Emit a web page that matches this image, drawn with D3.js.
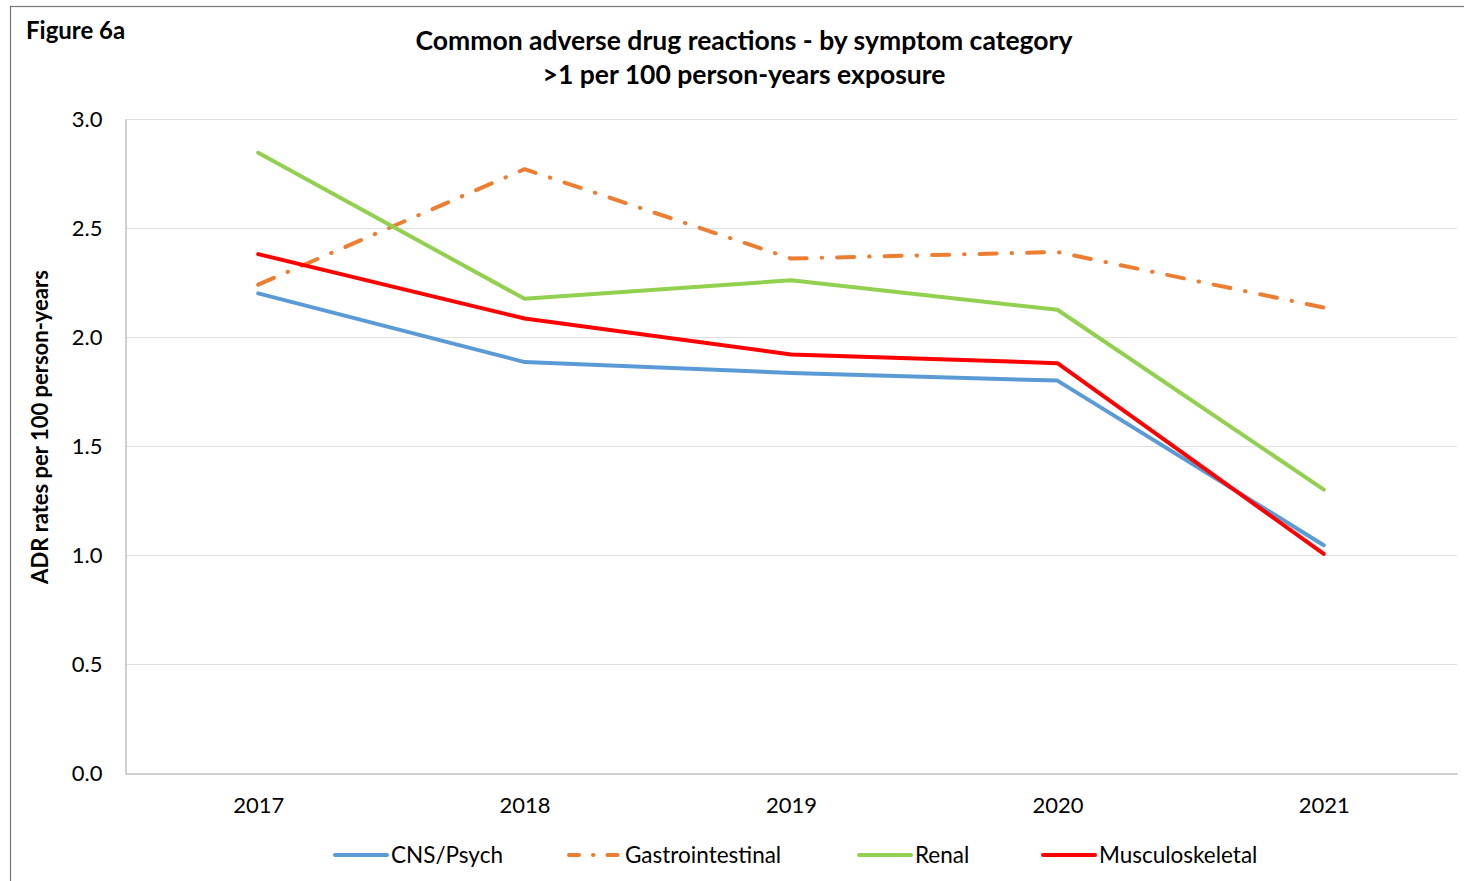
<!DOCTYPE html>
<html>
<head>
<meta charset="utf-8">
<script src="https://cdn.jsdelivr.net/npm/d3@7/dist/d3.min.js"></script>
<style>
  html, body { margin: 0; padding: 0; background: #fff; }
  svg { display: block; }
  text { font-family: Lato, "Open Sans", "DejaVu Sans", sans-serif; fill: #000; }
</style>
</head>
<body>
<svg id="chart" width="1464" height="881"></svg>
<script>
// Reporting years on the category axis
const years = ["2017", "2018", "2019", "2020", "2021"];

// ADR rates per 100 person-years, one array per symptom category
const cnsPsych         = [2.20, 1.885, 1.835, 1.80, 1.045];
const gastrointestinal = [2.24, 2.77, 2.36, 2.39, 2.135];
const renal            = [2.845, 2.175, 2.26, 2.125, 1.30];
const musculoskeletal  = [2.38, 2.085, 1.92, 1.88, 1.005];

const seriesNames = ["CNS/Psych", "Gastrointestinal", "Renal", "Musculoskeletal"];

// Value-axis ticks
const yTicks = [0, 0.5, 1.0, 1.5, 2.0, 2.5, 3.0];

const series = [
  { name: seriesNames[0], values: cnsPsych,         color: "#5b9bd5", dash: null },
  { name: seriesNames[1], values: gastrointestinal, color: "#ed7d31", dash: "17,15,0.5,15" },
  { name: seriesNames[2], values: renal,            color: "#92d050", dash: null },
  { name: seriesNames[3], values: musculoskeletal,  color: "#ff0000", dash: null }
];

const svg = d3.select("#chart");

// Outer frame of the figure
svg.append("rect")
  .attr("x", 10.5).attr("y", 6.5)
  .attr("width", 1470).attr("height", 890)
  .attr("fill", "none").attr("stroke", "#767676").attr("stroke-width", 1.2);

const plot = { left: 125, right: 1457, top: 119, bottom: 773 };

const x = d3.scalePoint().domain(years).range([plot.left, plot.right]).padding(0.5);
const y = d3.scaleLinear().domain([0, 3]).range([plot.bottom, plot.top]);

// Horizontal gridlines
svg.append("g")
  .selectAll("line")
  .data(yTicks.filter(d => d > 0))
  .join("line")
  .attr("x1", plot.left).attr("x2", plot.right)
  .attr("y1", d => y(d) + 0.5).attr("y2", d => y(d) + 0.5)
  .attr("stroke", "#e0e0e0").attr("stroke-width", 1);

// Y axis
const yAxis = svg.append("g")
  .attr("transform", `translate(${plot.left + 0.5},0)`)
  .call(d3.axisLeft(y).tickValues(yTicks).tickFormat(d3.format(".1f")).tickSize(0).tickPadding(23));
yAxis.select(".domain").attr("stroke", "#bfbfbf").attr("stroke-width", 1.5);
yAxis.selectAll("text")
  .attr("font-size", 22).attr("font-family", "Lato, 'Open Sans', sans-serif").attr("fill", "#000");

// X axis
const xAxis = svg.append("g")
  .attr("transform", `translate(0,${plot.bottom + 0.5})`)
  .call(d3.axisBottom(x).tickSize(0).tickPadding(24));
xAxis.select(".domain").attr("stroke", "#bfbfbf").attr("stroke-width", 1.5);
xAxis.selectAll("text")
  .attr("font-size", 22).attr("font-family", "Lato, 'Open Sans', sans-serif").attr("fill", "#000");

// Series lines
const line = d3.line()
  .x((d, i) => x(years[i]))
  .y(d => y(d));

svg.append("g")
  .selectAll("path")
  .data(series)
  .join("path")
  .attr("d", d => line(d.values))
  .attr("fill", "none")
  .attr("stroke", d => d.color)
  .attr("stroke-width", 4)
  .attr("stroke-linejoin", "round")
  .attr("stroke-linecap", "round")
  .attr("stroke-dasharray", d => d.dash);

// Figure label
svg.append("text")
  .attr("x", 26).attr("y", 39)
  .attr("font-size", 24).attr("font-weight", 700)
  .text("Figure 6a");

// Title
const title = svg.append("text")
  .attr("text-anchor", "middle")
  .attr("font-size", 26.5).attr("font-weight", 700);
title.append("tspan").attr("x", 744).attr("y", 50)
  .text("Common adverse drug reactions - by symptom category");
title.append("tspan").attr("x", 744).attr("y", 84)
  .text(">1 per 100 person-years exposure");

// Y axis title
svg.append("text")
  .attr("transform", "translate(48,427) rotate(-90)")
  .attr("text-anchor", "middle")
  .attr("font-size", 22).attr("font-weight", 700)
  .text("ADR rates per 100 person-years");

// Legend
const legendX = [333, 567, 857, 1041];
const legend = svg.append("g")
  .selectAll("g")
  .data(series)
  .join("g")
  .attr("transform", (d, i) => `translate(${legendX[i]},855)`);
legend.append("line")
  .attr("x1", 2).attr("x2", 54)
  .attr("stroke", d => d.color)
  .attr("stroke-width", 4)
  .attr("stroke-linecap", "round")
  .attr("stroke-dasharray", d => d.dash ? "10,14,0.5,14" : null);
legend.append("text")
  .attr("x", 58).attr("y", 8)
  .attr("font-size", 22.5)
  .text(d => d.name);
</script>
</body>
</html>
